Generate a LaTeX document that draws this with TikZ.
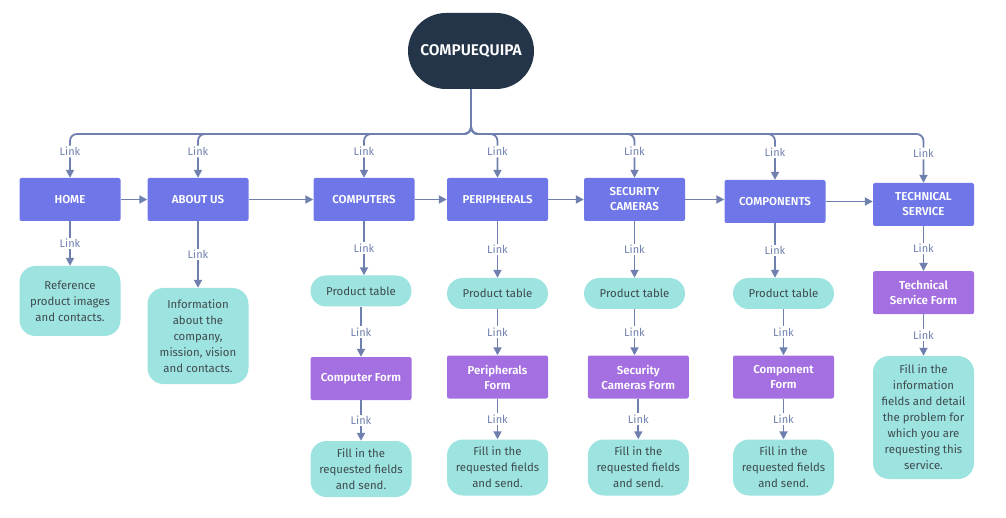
\documentclass[tikz,border=0pt]{standalone}
\usepackage{fontspec}
\setmainfont{Fira Sans}[BoldFont={Fira Sans SemiBold}]
\usetikzlibrary{arrows.meta}

\definecolor{rootc}{HTML}{253549}
\definecolor{menuc}{HTML}{6E76E8}
\definecolor{formc}{HTML}{A46FE1}
\definecolor{infoc}{HTML}{9DE4E0}
\definecolor{infot}{HTML}{3E4A4E}
\definecolor{linkc}{HTML}{7080AE}

\tikzset{
  conn/.style={draw=linkc, line width=1.8pt, -{Triangle[length=8pt,width=8pt]}},
  lbl/.style={fill=white, text=linkc, font=\fontsize{11}{12}\selectfont, inner sep=1.5pt},
  root/.style={fill=rootc, text=white, font=\bfseries\fontsize{15.5}{17}\selectfont, minimum width=126pt, minimum height=76pt, rounded corners=38pt},
  menu/.style={fill=menuc, text=white, font=\bfseries\fontsize{11.5}{15}\selectfont, minimum width=101pt, minimum height=43pt, rounded corners=2pt, align=center, inner sep=2pt},
  form/.style={menu, fill=formc},
  info/.style={fill=infoc, text=infot, font=\fontsize{11.4}{16}\selectfont, minimum width=101pt, rounded corners=16pt, align=center, inner sep=2pt},
  prodtab/.style={info, minimum height=31pt, rounded corners=15.5pt}
}

\begin{document}
\begin{tikzpicture}[x=1pt,y=-1pt]
\useasboundingbox (0,0) rectangle (1006,518);

\node[root] (root) at (471,51) {COMPUEQUIPA};
\coordinate (bus) at (471,134);

% menu row
\node[menu] (home) at (70,199.5) {HOME};
\node[menu] (about) at (198,199.5) {ABOUT US};
\node[menu] (comp) at (364,199.5) {COMPUTERS};
\node[menu] (peri) at (497.5,199.5) {PERIPHERALS};
\node[menu] (secu) at (634.5,199.5) {SECURITY\\CAMERAS};
\node[menu] (comps) at (775,201.5) {COMPONENTS};
\node[menu] (tech) at (923.5,204.5) {TECHNICAL\\SERVICE};

% info and product tables
\node[info, minimum height=70pt] (homeinfo) at (70,301) {Reference\\product images\\and contacts.};
\node[info, minimum height=96pt] (aboutinfo) at (198,336) {Information\\about the\\company,\\mission, vision\\and contacts.};
\node[prodtab] (comptab) at (361,291) {Product table};
\node[prodtab] (peritab) at (497.5,293.5) {Product table};
\node[prodtab] (secutab) at (634.5,293.5) {Product table};
\node[prodtab] (compstab) at (783.5,293.5) {Product table};

% forms
\node[form] (compform) at (361,378.5) {Computer Form};
\node[form] (periform) at (497.5,377) {Peripherals\\Form};
\node[form] (secuform) at (638.3,377) {Security\\Cameras Form};
\node[form] (compsform) at (783.5,377) {Component\\Form};
\node[form] (techform) at (923.5,292.7) {Technical\\Service Form};

% fill in boxes
\node[info, minimum height=56pt] (compfill) at (361,469) {Fill in the\\requested fields\\and send.};
\node[info, minimum height=56pt] (perifill) at (497.5,467.5) {Fill in the\\requested fields\\and send.};
\node[info, minimum height=56pt] (secufill) at (638.3,467.5) {Fill in the\\requested fields\\and send.};
\node[info, minimum height=56pt] (compsfill) at (783.5,467.5) {Fill in the\\requested fields\\and send.};
\node[info, minimum height=123pt] (techfill) at (923.5,417.5) {Fill in the\\information\\fields and detail\\the problem for\\which you are\\requesting this\\service.};

% links from root
\foreach \n in {home,about,comp,peri,secu,comps,tech}
  \draw[conn, rounded corners=7pt] (root.south) -- (bus) -| node[lbl, pos=0.7] {Link} (\n.north);

\foreach \a/\b in {home/about,about/comp,comp/peri,peri/secu,secu/comps,comps/tech}
  \draw[conn] (\a.east) -- (\a.east -| \b.west);

\foreach \a/\b in {home/homeinfo,about/aboutinfo,comp/comptab,comptab/compform,compform/compfill,
    peri/peritab,peritab/periform,periform/perifill,secu/secutab,secutab/secuform,secuform/secufill,
    comps/compstab,compstab/compsform,compsform/compsfill,tech/techform,techform/techfill}
  \draw[conn] (\a.south) -- node[lbl] {Link} (\a.south |- \b.north);
\end{tikzpicture}
\end{document}
